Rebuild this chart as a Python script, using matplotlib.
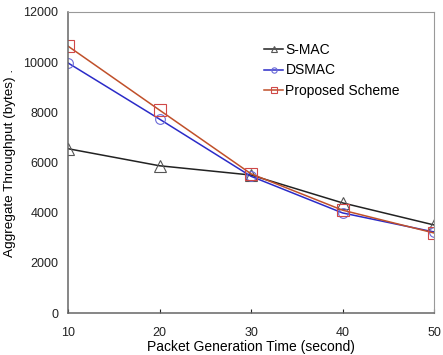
import matplotlib.pyplot as plt

# packet generation time (s)
gen_time = [10, 20, 30, 40, 50]

smac = [6550, 5870, 5500, 4390, 3510]
dsmac = [9970, 7730, 5450, 3990, 3230]
proposed = [10640, 8090, 5550, 4100, 3190]

y_ticks = [0, 2000, 4000, 6000, 8000, 10000, 12000]

plt.rcParams["font.family"] = ["Liberation Sans", "DejaVu Sans"]

fig = plt.figure(figsize=(4.43, 3.55), dpi=100)
ax = fig.add_axes([68 / 443, 1 - 313 / 355, 366 / 443, 301 / 355])

ax.plot(gen_time, smac, color="#222222", lw=1.1, marker="^", ms=8,
        mfc="none", mec="#555555", mew=0.8, label="S-MAC")
ax.plot(gen_time, dsmac, color="#2b2bc8", lw=1.1, marker="o", ms=7,
        mfc="none", mec="#6a6ad8", mew=0.8, label="DSMAC")
ax.plot(gen_time, proposed, color="#c0502a", lw=1.1, marker="s", ms=8,
        mfc="none", mec="#d04848", mew=0.8, label="Proposed Scheme")

ax.set_xlim(10, 50)
ax.set_ylim(0, 12000)
ax.set_xticks(gen_time)
ax.set_yticks(y_ticks)
ax.tick_params(axis="x", direction="in", length=3, pad=10, labelsize=9, colors="#222222")
ax.tick_params(axis="y", length=0, pad=7, labelsize=9, colors="#222222")
for s in ["top", "right"]:
    ax.spines[s].set_color("#999999")
for s in ["left", "bottom"]:
    ax.spines[s].set_color("#666666")
    ax.spines[s].set_linewidth(1.1)

ax.set_xlabel("Packet Generation Time (second)", fontsize=10, labelpad=1)
ax.set_ylabel("Aggregate Throughput (bytes) .", fontsize=9.7, labelpad=5)

ax.legend(loc="upper left", bbox_to_anchor=(0.52, 0.915), frameon=False,
          fontsize=10, handlelength=1.4, handletextpad=0.15, labelspacing=0.45,
          markerscale=0.55, borderaxespad=0)

fig.savefig("out.png", dpi=100)
